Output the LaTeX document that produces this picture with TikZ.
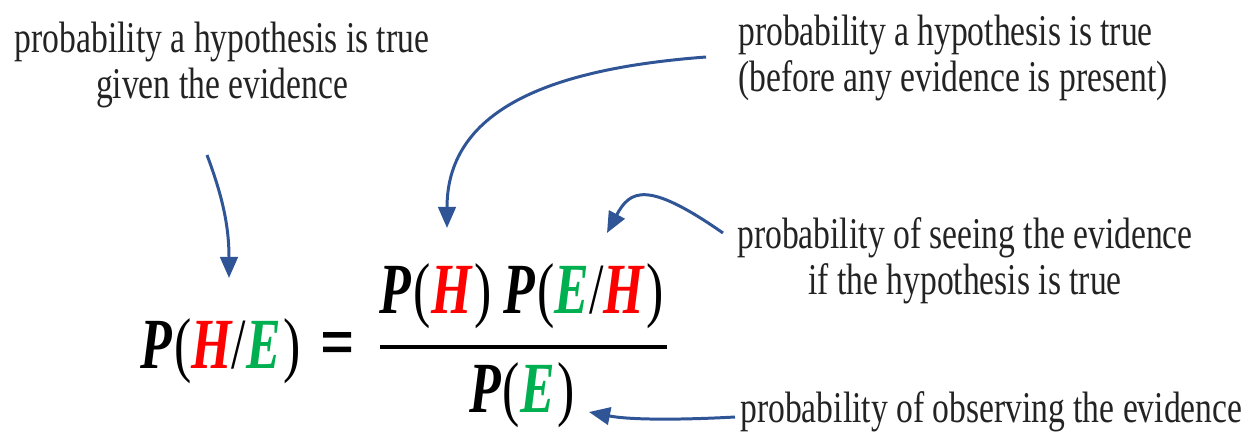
\documentclass[tikz,border=0pt]{standalone}
\usepackage{fontspec}
\setmainfont{Liberation Serif}
\newfontfamily\lblfont[FakeStretch=0.765]{Liberation Serif}
\newfontfamily\fmlfont[FakeStretch=0.72]{Liberation Serif}
\newfontfamily\eqfont[FakeStretch=0.78,FakeBold=2.5]{Liberation Serif}
\usetikzlibrary{arrows.meta}
\definecolor{hred}{RGB}{255,0,0}
\definecolor{egreen}{RGB}{0,176,80}
\definecolor{arrblue}{RGB}{47,85,151}
\definecolor{txtgray}{RGB}{35,35,35}
\newcommand\bv[1]{{\bfseries\itshape #1}}
\newcommand\pa[1]{{\mdseries\upshape #1}}
\newcommand\lp{\kern0.03em\pa{(}}
\newcommand\rp{\kern0.04em\pa{)}}
\begin{document}
\begin{tikzpicture}[x=0.02cm,y=-0.02cm,
  lbl/.style={inner sep=0pt, text=txtgray, font=\lblfont\fontsize{25}{26.7}\selectfont},
  fml/.style={inner sep=0pt, font=\fmlfont\fontsize{41}{45}\selectfont},
  arr/.style={draw=arrblue, line width=1.7pt, -{Triangle[length=12pt,width=10pt]}}]
\useasboundingbox (0,0) rectangle (1247,437);

% labels
\node[lbl, anchor=base] (post) at (222,52)
  {\begin{tabular}[t]{@{}c@{}}probability a hypothesis is true\\given the evidence\end{tabular}};
\node[lbl, anchor=base west] (prior) at (738,45)
  {\begin{tabular}[t]{@{}l@{}}probability a hypothesis is true\\(before any evidence is present)\end{tabular}};
\node[lbl, anchor=base] (like) at (965,248)
  {\begin{tabular}[t]{@{}c@{}}probability of seeing the evidence\\if the hypothesis is true\end{tabular}};
\node[lbl, anchor=base west] (evid) at (740,422) {probability of observing the evidence};

% formula
\node[fml, anchor=base west] (lhs) at (140,368)
  {\bv{P}\lp\textcolor{hred}{\bv{H}}\pa{/}\textcolor{egreen}{\bv{E}}\rp};
\node[fml, anchor=base, font=\eqfont\fontsize{41}{45}\selectfont] (eq) at (337,366) {=};
\node[fml, anchor=base] (num) at (522,313)
  {\bv{P}\lp\textcolor{hred}{\bv{H}}\rp\,\bv{P}\lp\textcolor{egreen}{\bv{E}}\pa{/}\textcolor{hred}{\bv{H}}\rp};
\node[fml, anchor=base] (den) at (522,412)
  {\bv{P}\lp\textcolor{egreen}{\bv{E}}\rp};
\draw[line width=2.3pt] (380,347) -- (667,347);

% arrows
\coordinate (a1s) at (207,155); \coordinate (a1e) at (229,278);
\coordinate (a2s) at (706,57);  \coordinate (a2e) at (447,228);
\coordinate (a3s) at (723,233); \coordinate (a3e) at (607,233);
\coordinate (a4s) at (735,417); \coordinate (a4e) at (589,412);
\draw[arr] (a1s) .. controls (222,195) and (229,225) .. (a1e);
\draw[arr] (a2s) .. controls (560,68) and (447,105) .. (a2e);
\draw[arr] (a3s) .. controls (647,180) and (630,190) .. (a3e);
\draw[arr] (a4s) .. controls (680,420) and (630,420) .. (a4e);
\end{tikzpicture}
\end{document}
